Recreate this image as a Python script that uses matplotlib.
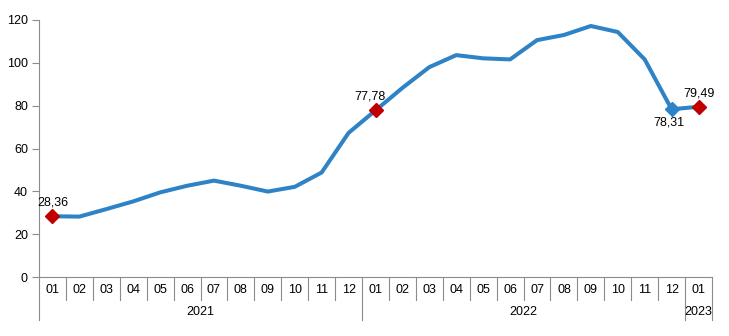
import matplotlib
matplotlib.use('Agg')
import matplotlib.pyplot as plt
import matplotlib.transforms as mtransforms

plt.rcParams['font.family'] = ['Liberation Sans', 'DejaVu Sans']

# monthly values, Jan 2021 .. Jan 2023
months = ['01', '02', '03', '04', '05', '06', '07', '08', '09', '10', '11', '12',
          '01', '02', '03', '04', '05', '06', '07', '08', '09', '10', '11', '12',
          '01']
years = ['2021', '2022', '2023']
year_lengths = [12, 12, 1]
values = [28.36, 28.2, 31.7, 35.3, 39.5, 42.6, 45.0, 42.6, 39.9, 42.1, 48.8, 67.3,
          77.78, 88.3, 98.0, 103.6, 102.1, 101.6, 110.6, 113.0, 117.2, 114.4, 101.6, 78.31,
          79.49]
red_points = [0, 12, 24]
blue_points = [23]

line_color = '#2E83C6'
red = '#C00000'
grey = '#8C8C8C'

fig = plt.figure(figsize=(7.29, 3.36), dpi=100)
ax = fig.add_axes([39 / 729, 59 / 336, 673 / 729, 257 / 336])

x = list(range(len(values)))
ax.plot(x, values, color=line_color, lw=2.9, solid_joinstyle='round', zorder=2)
ax.plot([x[i] for i in red_points], [values[i] for i in red_points], ls='none',
        marker='D', ms=7.5, color=red, zorder=3)
ax.plot([x[i] for i in blue_points], [values[i] for i in blue_points], ls='none',
        marker='D', ms=7.5, color=line_color, zorder=3)

def fmt(v):
    return ('%.2f' % v).replace('.', ',')

ax.annotate(fmt(values[0]), (x[0], values[0]), xytext=(0, 5.5), textcoords='offset points',
            ha='center', va='bottom', fontsize=9)
ax.annotate(fmt(values[12]), (x[12], values[12]), xytext=(-4, 5.5), textcoords='offset points',
            ha='center', va='bottom', fontsize=9)
ax.annotate(fmt(values[23]), (x[23], values[23]), xytext=(-2, -5), textcoords='offset points',
            ha='center', va='top', fontsize=9)
ax.annotate(fmt(values[24]), (x[24], values[24]), xytext=(0, 5.5), textcoords='offset points',
            ha='center', va='bottom', fontsize=9)

ax.set_xlim(-0.5, len(values) - 0.5)
ax.set_ylim(0, 120)
ax.set_yticks(range(0, 121, 20))
ax.tick_params(axis='y', direction='out', length=5, color=grey, labelsize=9, pad=3)
ax.set_xticks([])

for s in ['top', 'right']:
    ax.spines[s].set_visible(False)
for s in ['left', 'bottom']:
    ax.spines[s].set_color(grey)
    ax.spines[s].set_linewidth(0.8)

# two-level category axis: months, then years
trans = mtransforms.blended_transform_factory(ax.transData, ax.transAxes)
year_starts = [0]
for n in year_lengths:
    year_starts.append(year_starts[-1] + n)
for i in range(len(months) + 1):
    b = i - 0.5
    bottom = -0.168 if i in year_starts else -0.09
    ax.plot([b, b], [0, bottom], transform=trans, color=grey, lw=0.8, clip_on=False)
for i, m in enumerate(months):
    ax.text(i, -0.05, m, transform=trans, ha='center', va='center', fontsize=9)
for j, yr in enumerate(years):
    mid = (year_starts[j] + year_starts[j + 1] - 1) / 2
    ax.text(mid, -0.137, yr, transform=trans, ha='center', va='center', fontsize=9)

fig.savefig('out.png', dpi=100)
